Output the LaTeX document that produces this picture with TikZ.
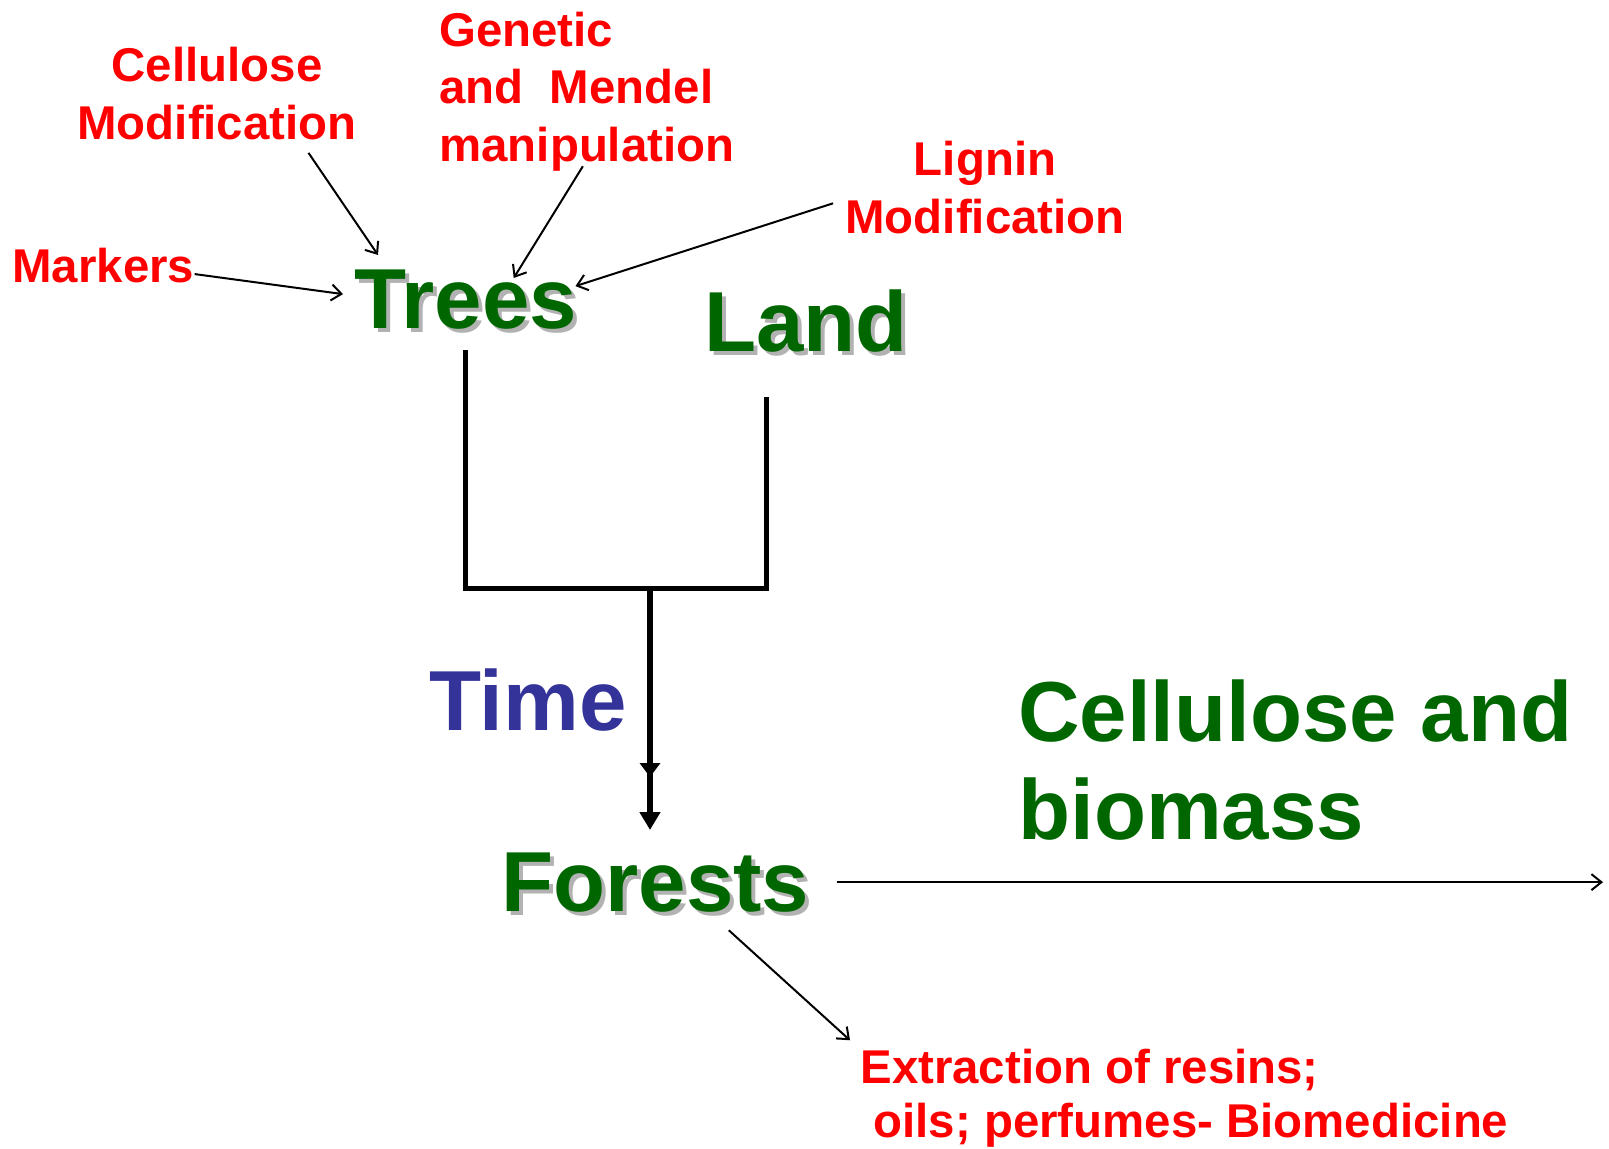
\documentclass[tikz,border=0pt]{standalone}
\usepackage{fontspec}
\setmainfont{Liberation Sans}
\usetikzlibrary{arrows.meta,backgrounds}
\definecolor{leafgreen}{RGB}{0,102,0}
\definecolor{timeblue}{RGB}{51,51,153}
\definecolor{shadowgray}{RGB}{178,178,178}
\tikzset{
  note/.style={text=red, font=\fontsize{23.7}{28.75}\selectfont\bfseries, inner sep=0pt},
  stage/.style={text=leafgreen, font=\fontsize{42.6}{49}\selectfont\bfseries, inner sep=0pt},
  feed/.style={line width=1pt, -{Straight Barb[length=5pt,width=8pt]}},
  bracket/.style={line width=2.5pt},
  stem/.style={line width=3pt, -{Triangle[length=9pt,width=10pt]}},
}
\begin{document}
\begin{tikzpicture}[x=0.5pt,y=-0.5pt]
\useasboundingbox (0,0) rectangle (1609,1148);
% red notes (base = last line)
\node[note, anchor=base west] (markers) at (12,282) {Markers};
\node[note, anchor=base, align=center] (cellmod) at (217,139) {Cellulose\\Modification};
\node[note, anchor=base west, align=left] (genetic) at (439,161) {Genetic\\and\ \ Mendel\\manipulation};
\node[note, anchor=base, align=center] (lignin) at (985,233) {Lignin\\Modification};
\node[note, anchor=base west, align=left, font=\fontsize{23.7}{27}\selectfont\bfseries] (extract) at (860,1137) {Extraction of resins;\\\ oils; perfumes- Biomedicine};
% main stages
\node[stage, anchor=base west] (trees) at (354,328) {Trees};
\node[stage, anchor=base west] (land) at (704,351) {Land};
\node[stage, anchor=base west] (forests) at (501,911) {Forests};
\node[stage, text=timeblue, anchor=base west] (time) at (429,730) {Time};
\node[stage, anchor=base west, align=left] (product) at (1018,839) {Cellulose and\\biomass};
\begin{scope}[on background layer]
\foreach \n/\t in {trees/Trees,land/Land,forests/Forests}
  \node[stage, text=shadowgray, anchor=base west] at ([shift={(2pt,-2pt)}]\n.base west) {\t};
\end{scope}
% arrows into trees
\draw[feed] ([yshift=-4.5pt]markers.east) -- ([shift={(-5.5pt,2.5pt)}]trees.west);
\draw[feed] ([shift={(45.75pt,-6.5pt)}]cellmod.south) -- ([shift={(12pt,7pt)}]trees.north west);
\draw[feed] ([shift={(-2pt,2.5pt)}]genetic.south) -- ([shift={(24pt,-4.5pt)}]trees.north);
\draw[feed] ([shift={(-6pt,-8pt)}]lignin.west) -- ([shift={(-1pt,6.5pt)}]trees.east);
% bracket and time stem
\coordinate (join) at (650,588);
\coordinate (rim) at (1603,879);
\draw[bracket] ([yshift=-10.5pt]trees.south) |- ([xshift=-19.75pt]land.south |- join)
  -- ([shift={(-19.75pt,-22.5pt)}]land.south);
\draw[stem] (join) -- ([yshift=11pt]join |- forests.north);
\draw[stem, -{Triangle[length=7pt,width=10pt]}] (join) -- ++(0,189) coordinate (halfway);
% out of forests
\draw[feed] ([xshift=13.5pt]forests.east) -- (forests.east -| rim);
\draw[feed] ([shift={(36.75pt,-9pt)}]forests.south) -- ([shift={(-5pt,4pt)}]extract.north west);
\end{tikzpicture}
\end{document}
